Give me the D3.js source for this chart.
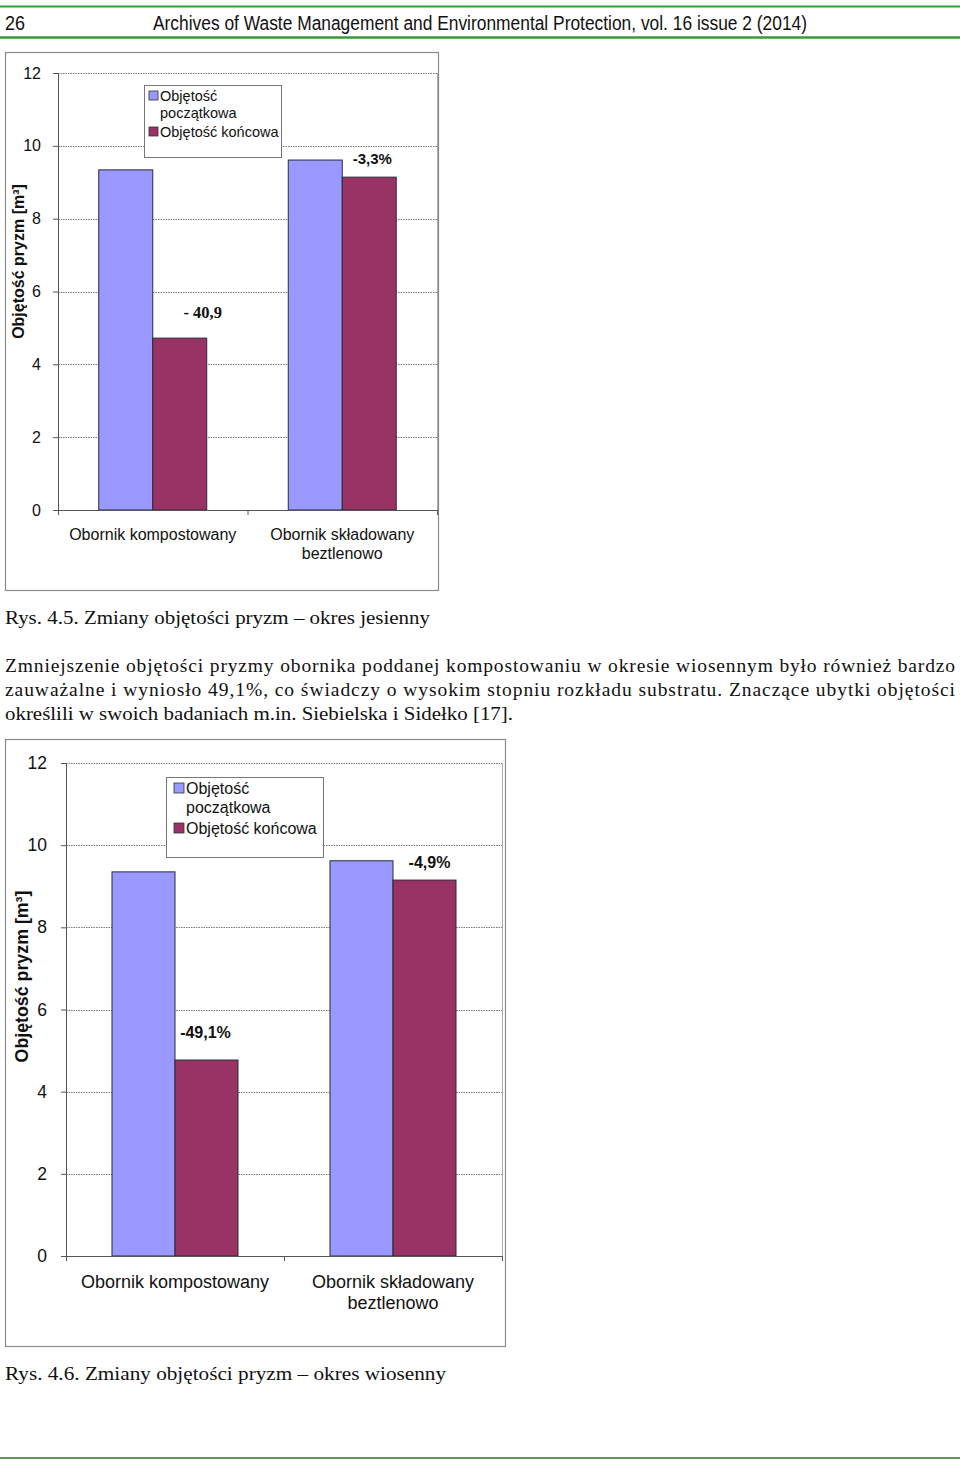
<!DOCTYPE html>
<html><head><meta charset="utf-8">
<script src="https://cdn.jsdelivr.net/npm/d3@7"></script>
<style>body{margin:0;background:#fff}svg{display:block}</style>
</head><body>
<script>
// ---- data ----
const categories = ["Obornik kompostowany", "Obornik składowany|beztlenowo"];
const seriesNames = ["Objętość|początkowa", "Objętość końcowa"];
const yTicks = [0, 2, 4, 6, 8, 10, 12];
const autumnInitial = [9.34, 9.61];
const autumnFinal = [4.72, 9.14];
const autumnChange = ["- 40,9", "-3,3%"];
const springInitial = [9.35, 9.62];
const springFinal = [4.77, 9.15];
const springChange = ["-49,1%", "-4,9%"];
const yTitle = "Objętość pryzm [m³]";
const headerPage = "26";
const headerTitle = "Archives of Waste Management and Environmental Protection, vol. 16 issue  2 (2014)";
const caption1 = "Rys. 4.5. Zmiany objętości pryzm – okres jesienny";
const caption2 = "Rys. 4.6.  Zmiany objętości pryzm – okres wiosenny";
const paragraph = [
  "Zmniejszenie objętości pryzmy obornika poddanej kompostowaniu w okresie wiosennym było również bardzo",
  "zauważalne i wyniosło 49,1%, co świadczy o wysokim stopniu rozkładu substratu. Znaczące ubytki objętości",
  "określili w swoich badaniach m.in. Siebielska i Sidełko [17]."
];

const W = 960, H = 1460;
const svg = d3.select("body").append("svg").attr("width", W).attr("height", H);
const green = "#3a9a35";
const serif = "'Liberation Serif','Times New Roman',serif";
const sans = "'Liberation Sans',Arial,sans-serif";
const blue = "#9999ff", plum = "#993366";

// header
svg.append("line").attr("x1",0).attr("x2",960).attr("y1",6.5).attr("y2",6.5).attr("stroke",green).attr("stroke-width",2);
svg.append("line").attr("x1",0).attr("x2",960).attr("y1",37.5).attr("y2",37.5).attr("stroke",green).attr("stroke-width",2.5);
svg.append("line").attr("x1",0).attr("x2",960).attr("y1",1458).attr("y2",1458).attr("stroke","#5a9a5a").attr("stroke-width",2);
svg.append("text").attr("x",5).attr("y",30).attr("font-family",sans).attr("font-size",20).attr("fill","#111")
  .attr("textLength",20).attr("lengthAdjust","spacingAndGlyphs").text(headerPage);
svg.append("text").attr("x",153).attr("y",30).attr("font-family","'Liberation Sans Narrow','Arial Narrow',"+sans).attr("font-size",20).attr("fill","#111")
  .attr("textLength",654).attr("lengthAdjust","spacingAndGlyphs").text(headerTitle);

// captions & paragraph
svg.append("text").attr("x",5).attr("y",624).attr("font-family",serif).attr("font-size",19.5).attr("fill","#111")
  .attr("textLength",425).attr("lengthAdjust","spacingAndGlyphs").text(caption1);
const plen = [950, 950, 508];
paragraph.forEach((t,i)=>{
  svg.append("text").attr("x",5).attr("y",672+i*24).attr("font-family",serif).attr("font-size",19.5).attr("fill","#111")
    .attr("textLength",plen[i]).attr("lengthAdjust", i<2 ? "spacing" : "spacingAndGlyphs").text(t);
});
svg.append("text").attr("x",5).attr("y",1380).attr("font-family",serif).attr("font-size",19.5).attr("fill","#111")
  .attr("textLength",441).attr("lengthAdjust","spacingAndGlyphs").text(caption2);

function drawChart(cfg){
  const g = svg.append("g");
  g.append("rect").attr("x",cfg.frame[0]+0.5).attr("y",cfg.frame[1]+0.5)
    .attr("width",cfg.frame[2]-cfg.frame[0]).attr("height",cfg.frame[3]-cfg.frame[1])
    .attr("fill","#fff").attr("stroke","#8a8a8a").attr("stroke-width",1.2);
  const x = d3.scaleBand().domain(categories).range([cfg.left, cfg.right]);
  const xs = d3.scaleBand().domain([0,1]).range([0, x.bandwidth()]).paddingInner(0).paddingOuter(cfg.outerPad);
  const y = d3.scaleLinear().domain([0,12]).range([cfg.bottom, cfg.top]);

  // grid
  g.selectAll("line.grid").data(yTicks.filter(d=>d>0)).join("line")
    .attr("x1",cfg.left).attr("x2",cfg.right).attr("y1",d=>Math.round(y(d))+0.5).attr("y2",d=>Math.round(y(d))+0.5)
    .attr("stroke","#666").attr("stroke-width",0.9).attr("stroke-dasharray","1.5,1");
  // right plot border
  g.append("line").attr("x1",cfg.right+0.5).attr("x2",cfg.right+0.5).attr("y1",cfg.top).attr("y2",cfg.bottom).attr("stroke","#aaa");

  // bars
  const rows = categories.map((c,i)=>({c, v:[cfg.init[i], cfg.fin[i]], lab: cfg.lab[i]}));
  const grp = g.selectAll("g.cat").data(rows).join("g").attr("transform",d=>`translate(${x(d.c)},0)`);
  grp.selectAll("rect").data(d=>d.v.map((v,k)=>({v,k}))).join("rect")
    .attr("x",d=>xs(d.k)).attr("width",xs.bandwidth())
    .attr("y",d=>y(d.v)).attr("height",d=>y(0)-y(d.v))
    .attr("fill",d=>d.k===0?blue:plum).attr("stroke","#2a2a3a").attr("stroke-width",1);
  // change labels
  grp.append("text")
    .attr("x",(d,i)=>xs(1)+xs.bandwidth()/2+cfg.labDx[i])
    .attr("y",(d,i)=>y(d.v[1])-cfg.labDy[i])
    .attr("text-anchor","middle").attr("font-weight","bold")
    .attr("font-family",(d,i)=>cfg.labFont[i]).attr("font-size",(d,i)=>cfg.labSize[i]).attr("fill","#111")
    .text(d=>d.lab);

  // y axis
  const ya = g.append("g").attr("transform",`translate(${cfg.left},0)`)
    .call(d3.axisLeft(y).tickValues(yTicks).tickSize(5).tickPadding(cfg.tickPad).tickFormat(d3.format("d")));
  ya.select(".domain").attr("stroke","#555").attr("d",`M0.5,${cfg.top}V${cfg.bottom}`);
  ya.selectAll(".tick line").attr("stroke","#555");
  ya.selectAll(".tick text").attr("font-family",sans).attr("font-size",cfg.tickFs).attr("fill","#111");

  // x axis
  const xa = g.append("g").attr("transform",`translate(0,${cfg.bottom})`);
  xa.append("line").attr("x1",cfg.left).attr("x2",cfg.right).attr("y1",0.5).attr("y2",0.5).attr("stroke","#555");
  const seps = [cfg.left, x(categories[1]), cfg.right];
  xa.selectAll("line.sep").data(seps).join("line").attr("class","sep")
    .attr("x1",d=>d+0.5).attr("x2",d=>d+0.5).attr("y1",0).attr("y2",5).attr("stroke","#555");
  categories.forEach(c=>{
    const parts = c.split("|");
    parts.forEach((p,j)=>{
      xa.append("text").attr("x",x(c)+x.bandwidth()/2).attr("y",cfg.catY + j*cfg.catLH)
        .attr("text-anchor","middle").attr("font-family",sans).attr("font-size",cfg.catFs).attr("fill","#111").text(p);
    });
  });

  // y title
  g.append("text").attr("transform",`translate(${cfg.ytx},${(cfg.top+cfg.bottom)/2 + cfg.ytdy}) rotate(-90)`)
    .attr("text-anchor","middle").attr("font-family",sans).attr("font-weight","bold").attr("font-size",cfg.ytFs).attr("fill","#111")
    .text(yTitle);

  // legend
  const L = cfg.legend;
  const lg = g.append("g").attr("transform",`translate(${L.x},${L.y})`);
  lg.append("rect").attr("x",0.5).attr("y",0.5).attr("width",L.w).attr("height",L.h).attr("fill","#fff").attr("stroke","#777");
  const colors = [blue, plum];
  seriesNames.forEach((s,k)=>{
    const yy = L.rows[k];
    lg.append("rect").attr("x",L.sq[0]).attr("y",yy-L.sq[1]).attr("width",L.sq[1]-1).attr("height",L.sq[1]-1)
      .attr("fill",colors[k]).attr("stroke","#333").attr("stroke-width",0.8);
    s.split("|").forEach((p,j)=>{
      lg.append("text").attr("x",L.tx).attr("y",yy+j*L.lh).attr("font-family",sans).attr("font-size",L.fs).attr("fill","#111").text(p);
    });
  });
}

drawChart({
  frame:[5,52,438,590], left:58, right:437, top:73, bottom:510, outerPad:0.755,
  tickFs:16, catFs:16, ytFs:16, tickPad:12,
  init:autumnInitial, fin:autumnFinal, lab:autumnChange,
  labDx:[23,3], labDy:[20,13], labFont:[serif, sans], labSize:[16.5,15],
  catY:30, catLH:19, ytx:24, ytdy:-30,
  legend:{x:144,y:85,w:137,h:72,rows:[16,52],lh:17,sq:[5,10],tx:16,fs:14.5}
});
drawChart({
  frame:[5,739,505,1346], left:66, right:502, top:763, bottom:1256, outerPad:0.73,
  tickFs:17.5, catFs:18, ytFs:17.8, tickPad:14,
  init:springInitial, fin:springFinal, lab:springChange,
  labDx:[-1,5], labDy:[22,12], labFont:[sans, sans], labSize:[16,16],
  catY:32, catLH:21, ytx:28, ytdy:-33,
  legend:{x:166,y:777,w:157,h:80,rows:[17,57],lh:19,sq:[8,11],tx:20,fs:16}
});
</script>
</body></html>
